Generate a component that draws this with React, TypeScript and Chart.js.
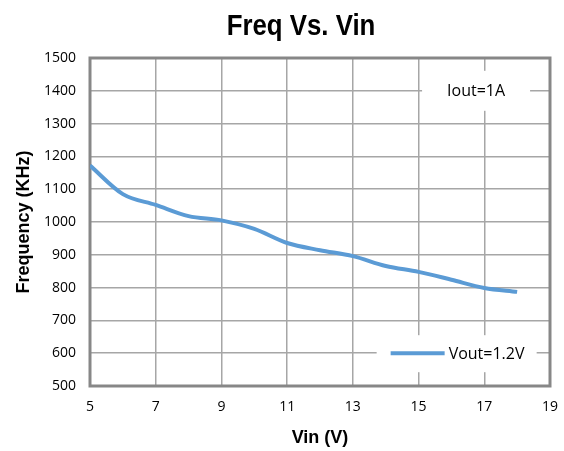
import React, { useEffect, useRef } from "react";
import { Chart, registerables } from "chart.js";

Chart.register(...registerables);

const vin = [5, 6, 7, 8, 9, 10, 11, 12, 13, 14, 15, 16, 17, 18];
const freq = [1172, 1085, 1052, 1018, 1005, 979, 936, 914, 896, 866, 848, 824, 799, 787];
const seriesLabel = "Vout=1.2V";
const noteText = "Iout=1A";
const titleText = "Freq Vs. Vin";
const xTitle = "Vin (V)";
const yTitle = "Frequency (KHz)";

const LINE = "#5b9bd5";
const GRID = "#a6a6a6";
const AXIS = "#878787";
const TICK_FONT = "'Open Sans', 'Liberation Sans', sans-serif";
const BOLD_FONT = "'Liberation Sans', Arial, sans-serif";

export default function App() {
  const ref = useRef<HTMLCanvasElement | null>(null);
  useEffect(() => {
    document.body.style.margin = "0";
    const canvas = ref.current!;
    const overlay = {
      id: "overlay",
      beforeDatasetsDraw(chart: any) {
        const { ctx, chartArea: a } = chart;
        ctx.save();
        ctx.strokeStyle = AXIS;
        ctx.lineWidth = 3;
        ctx.strokeRect(a.left, a.top, a.right - a.left, a.bottom - a.top);
        ctx.restore();
      },
      afterDatasetsDraw(chart: any) {
        const { ctx } = chart;
        const xs = chart.scales.x;
        const ys = chart.scales.y;
        ctx.save();
        // Title (condensed)
        ctx.save();
        ctx.fillStyle = "#000";
        ctx.font = "bold 30px 'Liberation Sans', Arial, sans-serif";
        ctx.textAlign = "center";
        ctx.textBaseline = "alphabetic";
        ctx.translate(301, 35);
        ctx.scale(0.86, 1);
        ctx.fillText(titleText, 0, 0);
        ctx.restore();
        // note box
        ctx.font = "16px " + TICK_FONT;
        const ncx = xs.getPixelForValue(16.75);
        const ncy = ys.getPixelForValue(1400);
        ctx.fillStyle = "#fff";
        ctx.fillRect(ncx - 54, ncy - 20, 108, 40);
        ctx.fillStyle = "#000";
        ctx.textAlign = "center";
        ctx.textBaseline = "middle";
        ctx.fillText(noteText, ncx, ncy + 1);
        // legend
        const ly = ys.getPixelForValue(600);
        const lx0 = xs.getPixelForValue(14.15);
        ctx.fillStyle = "#fff";
        ctx.fillRect(lx0 - 14, ly - 18, 160, 37);
        ctx.strokeStyle = LINE;
        ctx.lineWidth = 4;
        ctx.beginPath();
        ctx.moveTo(lx0, ly);
        ctx.lineTo(lx0 + 54, ly);
        ctx.stroke();
        ctx.fillStyle = "#000";
        ctx.textAlign = "left";
        ctx.fillText(seriesLabel, lx0 + 58, ly + 1);
        ctx.restore();
      },
    };
    const chart = new Chart(canvas, {
      type: "line",
      data: {
        datasets: [
          {
            label: seriesLabel,
            data: vin.map((v, i) => ({ x: v, y: freq[i] })),
            borderColor: LINE,
            borderWidth: 4,
            pointRadius: 0,
            tension: 0.4,
            cubicInterpolationMode: "monotone",
            fill: false,
          },
        ],
      },
      options: {
        animation: false,
        responsive: false,
        devicePixelRatio: 1,
        layout: { padding: { top: 58, right: 14, left: 0, bottom: 0 } },
        plugins: { legend: { display: false }, title: { display: false }, tooltip: { enabled: false } },
        scales: {
          x: {
            type: "linear",
            min: 5,
            max: 19,
            ticks: {
              stepSize: 2,
              color: "#000",
              font: { family: TICK_FONT, size: 14 },
              padding: 13,
              maxRotation: 0,
              minRotation: 0,
              callback: (v: any) => String(v),
            },
            grid: { color: GRID, lineWidth: 1.5, drawTicks: false },
            border: { display: false },
            title: {
              display: true,
              text: xTitle,
              color: "#000",
              font: { family: BOLD_FONT, size: 18, weight: "bold" },
              padding: { top: 6, bottom: 2 },
            },
            afterFit(scale: any) {
              scale.height = 65;
              scale.paddingLeft = 0;
              scale.paddingRight = 0;
            },
          },
          y: {
            min: 500,
            max: 1500,
            ticks: {
              stepSize: 100,
              color: "#000",
              font: { family: TICK_FONT, size: 14 },
              padding: 14,
              callback: (v: any) => String(v),
            },
            grid: { color: GRID, lineWidth: 1.5, drawTicks: false },
            border: { display: false },
            title: {
              display: true,
              text: yTitle,
              color: "#000",
              font: { family: BOLD_FONT, size: 18, weight: "bold" },
              padding: { top: 13, bottom: 0 },
            },
            afterFit(scale: any) {
              scale.width = 90;
              scale.paddingTop = 0;
              scale.paddingBottom = 0;
            },
          },
        },
      },
      plugins: [overlay],
    } as any);
    return () => chart.destroy();
  }, []);
  return (
    <div style={{ position: "absolute", left: 0, top: 0, width: 564, height: 451, background: "#fff" }}>
      <canvas ref={ref} width={564} height={451} style={{ width: 564, height: 451 }} />
    </div>
  );
}
